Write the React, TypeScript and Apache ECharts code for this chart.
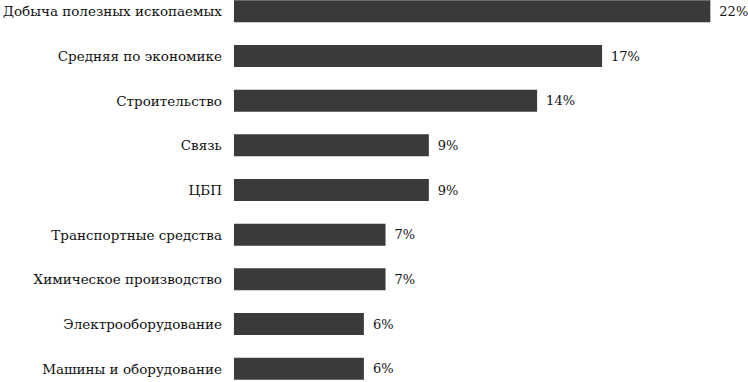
import React, { useEffect, useRef } from "react";
import * as echarts from "echarts";

const categories = [
  "Добыча полезных ископаемых",
  "Средняя по экономике",
  "Строительство",
  "Связь",
  "ЦБП",
  "Транспортные средства",
  "Химическое производство",
  "Электрооборудование",
  "Машины и оборудование",
];
const values = [22, 17, 14, 9, 9, 7, 7, 6, 6];

const FONT = "'DejaVu Serif', 'Liberation Serif', serif";

export default function App() {
  const ref = useRef<HTMLDivElement>(null);
  useEffect(() => {
    document.body.style.margin = "0";
    document.body.style.overflow = "hidden";
    const chart = echarts.init(ref.current!, null, { renderer: "svg" });
    chart.setOption({
      animation: false,
      grid: { left: 229, right: 16, top: 0, bottom: 0, containLabel: false },
      xAxis: {
        type: "value",
        min: 0,
        max: 23,
        show: false,
      },
      yAxis: {
        type: "category",
        data: categories,
        inverse: true,
        axisLine: { show: false },
        axisTick: { show: false },
        splitLine: { show: false },
        axisLabel: {
          margin: 12,
          color: "#111",
          fontFamily: FONT,
          fontSize: 13.5,
        },
      },
      series: [
        {
          type: "bar",
          data: values,
          barWidth: 22,
          itemStyle: { color: "#3a3a3a" },
          label: {
            show: true,
            position: "right",
            distance: 9,
            formatter: (p: any) => `${p.value}%`,
            color: "#111",
            fontFamily: FONT,
            fontSize: 13,
          },
        },
      ],
    });
    return () => chart.dispose();
  }, []);
  return (
    <div
      ref={ref}
      style={{ position: "absolute", left: 0, top: -11, width: 748, height: 402 }}
    />
  );
}
